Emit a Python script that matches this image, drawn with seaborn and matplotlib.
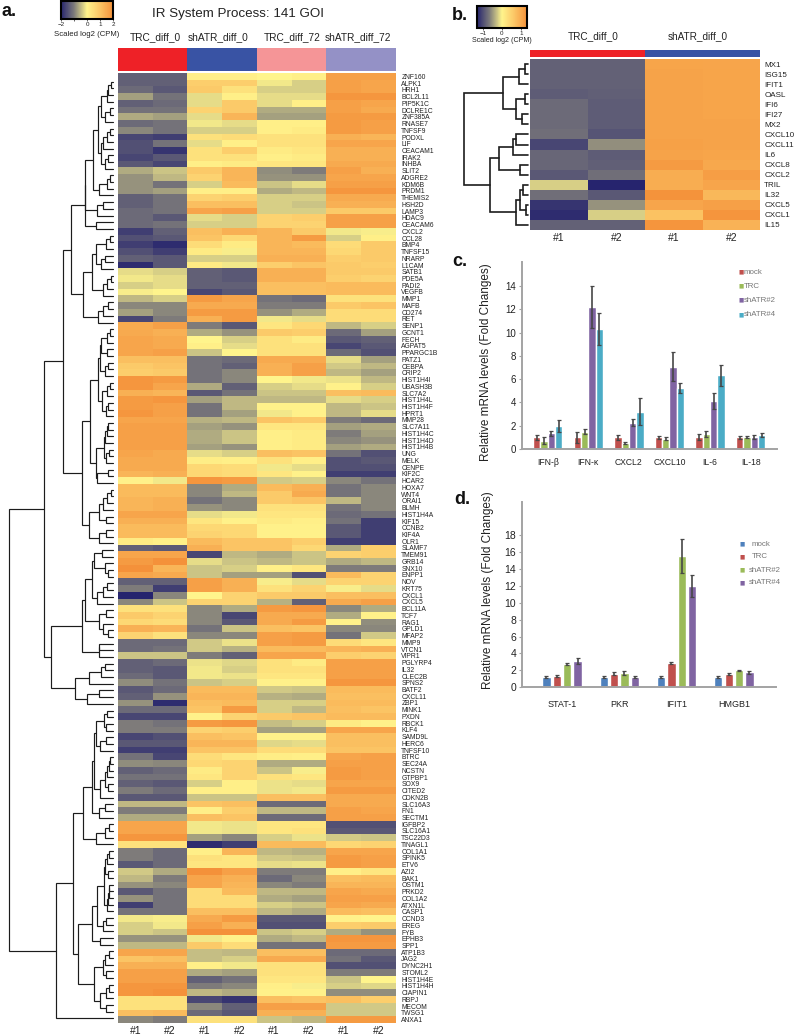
import numpy as np
import pandas as pd
import seaborn as sns
import matplotlib
matplotlib.use("Agg")
import matplotlib.pyplot as plt
from matplotlib.colors import LinearSegmentedColormap, ListedColormap, Normalize
from matplotlib.cm import ScalarMappable

sns.set_theme(style="white")
plt.rcParams['font.family'] = ['Liberation Sans', 'DejaVu Sans']

W, H = 794, 1035

a_genes = """ZNF160 ALPK1 HRH1 BCL2L11 PIP5K1C DCLRE1C ZNF385A RNASE7 TNFSF9 PODXL LIF CEACAM1 IRAK2 INHBA SLIT2 ADGRE2 KDM6B PRDM1 THEMIS2 HSH2D LAMP3 HDAC9 CEACAM6 CXCL2 CCL28 BMP4 TNFSF15 NRARP L1CAM SATB1 PDE5A PADI2 VEGFB MMP1 MAFB CD274 RET SENP1 GCNT1 FECH AGPAT5 PPARGC1B PATZ1 CEBPA CRIP2 HIST1H4I UBASH3B SLC7A2 HIST1H4L HIST1H4F HPRT1 MMP28 SLC7A11 HIST1H4C HIST1H4D HIST1H4B UNG MELK CENPE KIF2C HCAR2 HOXA7 WNT4 ORAI1 BLMH HIST1H4A KIF15 CCNB2 KIF4A OLR1 SLAMF7 TMEM91 GRB14 SNX10 ENPP1 NOV KRT75 CXCL1 CXCL5 BCL11A TCF7 RAG1 GPLD1 MFAP2 MMP9 VTCN1 VIPR1 PGLYRP4 IL32 CLEC2B SPNS2 BATF2 CXCL11 ZBP1 MINK1 PXDN RBCK1 KLF4 SAMD9L HERC6 TNFSF10 BTRC SEC24A NCSTN GTPBP1 SOX9 CITED2 CDKN2B SLC16A3 FN1 SECTM1 IGFBP2 SLC16A1 TSC22D3 TINAGL1 COL1A1 SPINK5 ETV6 AZI2 BAK1 OSTM1 PRKD2 COL1A2 ATXN1L CASP1 CCND3 EREG FYB EPHB3 SPP1 ATP1B3 JAG2 DYNC2H1 STOML2 HIST1H4E HIST1H4H CIAPIN1 RBPJ MECOM TWSG1 ANXA1""".split()

a_values = [
[-1.3,-1.3,0.1,0.1,0,0.1,1.7,1.7],[-1.3,-1.3,0.8,0.8,-0.1,-0.3,1.7,1.6],[-1.2,-1.4,0.9,0.4,-0.3,-0.3,1.7,1.6],
[-0.7,-1.1,-0.2,0.1,-0.2,-0.2,1.9,1.9],[-1.3,-1.2,-0.2,0.9,-0.2,0.1,1.7,1.6],[-1.1,-1.1,0.7,0.9,-0.6,-0.6,1.7,1.5],
[-0.6,-0.7,-0.2,1.3,-0.7,-0.7,1.8,1.8],[-1.2,-1.1,-0.1,-0.2,0.1,0.1,1.8,1.7],[-0.9,-1.1,-0.3,-0.3,0.1,0.2,1.8,1.7],
[-1.6,-1.7,0.4,0.5,0.4,0.4,1.4,1.3],[-1.5,-1.1,-0.2,0.1,0.4,0.4,1.6,1.6],[-1.5,-1.8,0.4,0.8,0.2,0.3,1.4,1.4],
[-1.6,-1.4,0.4,0.4,0.1,0.2,1.4,1.4],[-1.4,-1.6,0.1,0.2,0.3,0.3,1.5,1.5],[-0.6,-0.4,0.9,1.3,-0.85,-1.0,1.7,1.4],
[-0.8,-0.5,0.7,1.3,-0.8,-0.8,1.6,1.6],[-0.8,-1.1,-0.3,1.2,-0.4,-0.2,1.7,1.7],[-0.8,-0.7,0.1,0.1,-0.6,-0.5,1.9,1.9],
[-1.3,-1.1,0.7,0.8,-0.3,-0.3,1.5,1.5],[-1.3,-1.1,1.1,1.1,-0.3,-0.4,1.4,1.4],[-1.2,-1.1,1.6,1.7,-0.3,-0.3,0.9,0.9],
[-1.2,-1.4,-0.2,-0.3,0.7,0.8,1.7,1.7],[-1.2,-1.1,-0.3,-0.3,0.7,0.7,1.7,1.7],[-1.7,-1.3,1.1,1.4,1.3,0.9,-0.1,-0.05],
[-1.5,-1.4,1.0,0.6,1.3,1.8,-0.3,0.1],[-1.7,-1.9,0.5,0.2,1.3,1.2,0.5,0.9],[-1.5,-1.7,0.2,-0.05,1.3,1.3,0.6,0.9],
[-1.3,-1.4,-0.3,-0.3,1.4,1.4,0.8,0.9],[-1.9,-1.4,0.2,-0.1,0.8,1.0,0.9,0.8],[-0.2,-0.3,-1.3,-1.4,1.4,1.4,0.9,0.9],
[-0.1,-0.2,-1.3,-1.4,1.4,1.4,0.8,0.7],[-0.3,-0.2,-1.3,-1.3,1.1,1.1,1.2,1.2],[-0.05,0,-1.6,-1.4,1.1,1.1,1.2,1.2],
[-0.5,-0.3,1.8,1.6,-1.1,-1.2,0.4,0.4],[-0.9,-0.9,1.5,1.5,-1.0,-1.0,0.9,1.0],[-0.7,-0.9,1.8,1.8,-0.8,-0.6,0.5,0.5],
[-1.6,-1.0,1.4,1.8,-0.1,-0.2,0.5,0.5],[1.5,1.7,-1.0,-1.4,0.3,0.6,-0.5,-0.3],[1.5,1.4,-0.6,-0.8,0.9,0.8,-1.2,-0.7],
[1.6,1.5,0,-0.3,0.4,0.2,-1.4,-1.3],[1.6,1.5,0.1,-0.2,0.4,0.4,-1.6,-1.4],[1.6,1.7,-0.4,0,0.4,0.4,-1.2,-1.5],
[1.1,1.1,-1.1,-1.2,1.5,1.5,-0.2,-0.7],[0.9,1.0,-1.1,-1.3,1.4,1.7,-0.35,-0.5],[0.8,0.9,-1.1,-0.9,1.4,1.7,-0.5,-0.7],
[1.9,1.8,-1.1,-0.9,0,-0.1,-0.15,-0.5],[1.9,1.6,-0.6,-1.3,-0.3,-0.2,0.05,-0.3],[1.4,1.3,-1.4,-1.1,-0.4,-0.4,1.1,1.2],
[1.8,1.9,-0.7,-0.5,-0.5,-0.5,-0.2,-0.3],[1.8,1.7,-1.1,-0.5,0.05,0.05,-0.5,-0.4],[1.9,1.7,-1.1,-0.7,-0.1,0.05,-0.5,-0.2],
[1.6,1.6,-0.55,-0.5,1.0,0.9,-1.0,-1.2],[1.7,1.7,-0.7,-0.8,0.3,0.3,-0.7,-0.6],[1.7,1.7,-0.6,-0.4,0.1,0.2,-1.0,-0.7],
[1.7,1.7,-0.6,-0.4,0.1,0.2,-0.9,-0.8],[1.7,1.7,-0.7,-0.8,0.1,0.2,-0.7,-0.6],[1.6,1.5,-0.2,-0.3,1.1,1.0,-1.1,-1.5],
[1.5,1.5,0.15,0.1,0.4,0.1,-1.5,-1.4],[1.5,1.5,0.6,0.5,-0.1,-0.2,-1.5,-1.5],[1.3,1.4,0.6,0.5,0.3,0.05,-1.7,-1.7],
[0.05,-0.1,1.9,1.8,-0.35,-0.3,-0.9,-1.1],[1.2,1.2,-0.9,-0.6,1.2,1.4,-1.1,-0.9],[1.2,1.2,-0.9,-0.5,0.9,1.5,-1.1,-0.9],
[1.3,1.4,-1.1,-0.9,0.9,1.0,-0.5,-0.9],[1.3,1.4,-0.8,-0.9,0.4,0.4,-1.1,-0.9],[1.6,1.6,-0.2,-0.1,0.3,0.3,-1.2,-1.1],
[1.4,1.4,0.3,0.05,0.2,0.1,-1.1,-1.7],[1.2,1.2,0.6,0.6,0.05,0.05,-1.4,-1.7],[1.2,1.2,0.7,0.6,0.05,0.05,-1.4,-1.7],
[0.2,0.1,1.2,1.0,1.0,0.8,-1.7,-1.7],[-1.3,-1.4,1.4,1.0,1.0,0.6,-0.6,0.8],[1.6,1.6,-1.6,-0.5,-0.6,-0.4,0.7,0.8],
[1.8,2.0,-0.2,-0.4,-0.5,-0.4,-0.6,-0.5],[2.0,1.3,-0.4,-0.3,0.1,0.3,-1.0,-1.0],[1.6,1.5,-0.4,-0.7,-0.7,-1.5,1.2,0.7],
[-1.3,-1.3,1.7,1.4,-0.05,-0.2,0.7,0.7],[-1.0,-1.7,1.7,1.4,0.4,0.7,-0.05,-0.2],[-2,-0.9,0,0.7,0.9,0.9,1.1,1.1],
[-0.9,-0.4,0.7,0.7,-0.55,-1.3,1.5,1.7],[0.4,0.4,-0.9,-0.6,1.8,1.9,-0.9,-0.6],[0.9,0.7,-0.9,-1.6,1.5,1.5,-0.6,0.05],
[0.6,0.5,-0.9,-1.4,1.5,1.8,0.05,-0.85],[1.4,1.3,-1.1,-0.4,1.1,1.0,-0.9,-0.9],[0.7,0.4,-0.9,-0.9,1.7,1.8,-1.1,-0.35],
[-1.2,-1.2,-0.35,-0.15,1.7,1.8,0.5,0.3],[-1.2,-1.1,-0.35,-0.55,1.2,1.2,1.3,1.4],[-0.4,-0.4,-1.0,-1.3,1.6,1.6,0.8,0.7],
[-1.3,-1.2,-0.15,-0.25,0.4,0.2,1.7,1.7],[-1.3,-1.4,-0.1,-0.3,0.4,0.4,1.7,1.7],[-1.2,-1.4,-0.1,-0.15,0.3,0.3,1.7,1.7],
[-0.85,-1.1,-0.4,-0.3,0.05,0.05,1.9,1.9],[-1.4,-1.2,1.2,1.2,-0.35,-0.4,1.2,1.2],[-1.3,-0.8,1.3,1.3,-0.55,-0.6,1.1,1.1],
[-0.8,-1.9,1.1,1.2,-0.3,-0.3,1.2,1.2],[-1.2,-1.2,1.0,1.8,-0.3,-0.5,1.1,1.0],[-1.6,-1.6,0.05,0.7,0.9,1.0,1.2,1.2],
[-1.0,-1.1,1.8,1.9,-0.45,-0.3,0.2,0.05],[-1.0,-1.0,0.7,0.8,-0.7,-0.7,1.6,1.6],[-1.6,-1.5,1.1,1.0,0.05,0.05,1.1,1.1],
[-1.4,-1.4,1.3,1.3,-0.25,-0.2,1.1,1.1],[-1.7,-1.7,1.0,1.0,0.5,0.5,1.0,1.0],[-1.1,-1.6,0.5,0.3,0.15,0.1,1.6,1.7],
[-0.85,-0.9,0.6,0.7,-0.6,-0.6,1.7,1.7],[-1.3,-1.2,0.2,0.7,-0.4,-0.05,1.8,1.7],[-1.1,-1.1,0.3,0.7,0.4,0.3,1.8,1.7],
[-1.3,-1.4,-0.3,0.1,-0.15,-0.2,1.6,1.6],[-1.0,-1.2,0.1,0.1,-0.15,-0.1,1.8,1.8],[-1.4,-1.4,-0.4,-0.4,1.1,1.1,1.5,1.5],
[-0.5,-0.5,1.0,1.1,-1.2,-1.2,1.5,1.5],[-1.0,-1.0,0.1,0.8,-0.5,-0.5,1.7,1.6],[-0.6,-0.6,1.1,1.0,-1.2,-1.2,1.7,1.7],
[1.6,1.6,-0.1,-0.15,0.3,0.3,-1.5,-1.5],[1.6,1.6,-0.1,-0.15,0.3,0.4,-1.4,-1.4],[1.9,1.9,-0.7,-0.9,-0.3,-0.15,-0.35,-0.4],
[0.4,0.4,-1.9,-1.7,1.2,1.2,0.6,0.7],[-1.0,-1.2,0.1,1.3,-0.5,-0.55,1.6,1.6],[-1.0,-1.2,0.4,0.3,-0.35,-0.4,1.8,1.7],
[-1.4,-1.2,0.3,0.3,-0.2,-0.15,1.8,1.7],[-0.35,-0.6,2.0,1.7,-1.0,-1.0,0.1,0.3],[-0.5,-1.0,1.6,1.4,-1.2,-0.9,1.1,1.2],
[-0.8,-0.9,1.6,1.3,-0.9,-1.0,1.3,1.3],[-1.4,-1.1,0.5,1.2,-0.5,-0.5,1.6,1.5],[-0.8,-1.1,0.5,0.5,-0.6,-0.7,1.7,1.7],
[-1.7,-1.1,0.5,0.5,-0.3,-0.4,1.6,1.5],[-1.1,-1.1,1.1,1.1,-0.5,-0.6,1.2,1.1],[-0.1,-0.05,1.5,1.8,-1.4,-1.4,0.05,0.0],
[-0.3,-0.1,1.7,1.4,-1.5,-1.5,0.8,0.9],[-0.3,-0.4,2.0,2.0,-0.4,-0.3,-0.6,-0.8],[-0.8,-0.8,-0.1,0.05,-0.6,-0.5,1.9,1.9],
[-0.5,-0.5,0.9,0.5,-1.1,-1.1,1.8,1.8],[1.6,1.6,-0.45,-0.5,1.1,1.1,-1.2,-1.2],[1.0,1.1,-0.45,-0.3,1.5,1.5,-1.1,-1.4],
[1.4,1.4,0.1,-0.1,0.4,0.4,-1.5,-1.5],[1.7,1.7,-0.6,-0.7,0.4,0.4,-1.0,-1.0],[1.7,1.7,-1.3,-1.1,0.3,0.3,-0.4,0],
[1.9,1.9,-1.0,-0.9,0.1,-0.05,-0.3,-0.25],[1.9,2.0,-0.5,-0.6,0.05,0.05,-0.85,-0.85],[0.4,0.4,-1.6,-1.8,1.1,1.0,1.1,0.8],
[0.4,0.4,-0.9,-1.3,1.7,1.7,-0.35,-0.35],[1.1,1.2,-1.2,-1.4,1.4,1.4,-0.35,-0.35],[-0.9,-1.0,0.4,0.4,-0.4,-0.5,1.8,1.8],
]

# merge heights of the row dendrogram: (height, upper, lower); 0 marks the next leaf
a_tree_upper = (49.7,
    (42, (28.3, (28, (20, (14.5, (12, (6, (5, (2, 0, 0), 0), 0), (8, (3, 0, 0), 0)),
                           (12, (10, (6, (3, 0, 0), 0), 0), (8, (5, 0, 0), 0))),
                      (14, (6, (3, 0, 0), 0), 0)),
                 (15.5, (10.3, 0, 0), 0)),
               (16.7, 0, 0)),
         (29.7, (20.7, (17.3, (6.5, (2.7, 0, 0), 0), (12, (8, 0, 0), 0)),
                       (10.3, (6, (2, 0, 0), 0), 0)),
                (15.3, (9.7, (4.7, 0, 0), 0), 0))),
    (31, (23, (15.3, (13, (12, (6, (2.7, 0, 0), 0), (6.3, 0, 0)), (8, (4.7, 0, 0), 0)),
                     (10.7, (5.7, (3, 0, 0), 0), (7.3, (4.7, 0, 0), 0))),
              (17.3, (9, (8, (6.3, (4.7, 0, 0), 0), 0), (7, (3.7, 0, 0), 0)),
                     (15.7, (5.3, 0, 0), 0))),
         (24, (14, (10.3, (5.7, (2, 0, 0), 0), 0), (7, 0, 0)), (14, (7, 0, 0), 0))))
a_tree_middle = (62.3,
    (30.7, (28.3, (21.3, (18.7, (11, 0, 0), (8, 0, (5, 0, 0))), (16.3, (10.3, (6.3, 0, 0), 0), 0)),
                  (14, (7, 0, 0), (9.7, 0, (5, 0, 0)))),
           (14.3, (13.7, 0, 0), 0)),
    (38, (23.7, (12, (8, 0, 0), 0), 0), (25.7, (13.7, 0, 0), 0)))
a_tree_lower = (57.3,
    (40, (29.7, (21.3, (19, (17.3, (9, (5.7, 0, 0), (7.3, 0, 0)), (13, (7, 0, 0), 0)),
                           (13, (8, (5.7, (4.3, (3, 0, 0), 0), 0), (4.7, 0, 0)), 0)),
                       (14.3, (8, 0, 0), 0)),
                (17, (8, (3.7, 0, 0), 0), 0)),
         (34.7, (21.3, (16.3, (9, (8, (5.7, (3.7, 0, 0), 0), (4.7, 0, 0)),
                                  (5.7, (5, (4.3, (3.7, 0, 0), 0), 0), 0)),
                              (10.3, (7, 0, 0), 0)),
                       (13, 0, 0)),
                (18.7, (10.3, (8, (3.7, 0, 0), 0), (7, 0, 0)),
                       (13, (7, (3.7, 0, 0), 0), (7.3, 0, 0))))),
    0)
a_tree = (104, (68.7, a_tree_upper, a_tree_middle), a_tree_lower)

b_genes = ["MX1","ISG15","IFIT1","OASL","IFI6","IFI27","MX2","CXCL10","CXCL11","IL6","CXCL8","CXCL2","TRIL","IL32","CXCL5","CXCL1","IL15"]
b_values = [
[-.86,-.86,1.08,1.06],[-.86,-.86,1.1,1.08],[-.86,-.86,1.1,1.08],[-.9,-.88,1.1,1.08],[-.8,-.9,1.1,1.08],[-.8,-.9,1.1,1.08],
[-.8,-.9,1.1,1.1],[-.76,-.96,1.1,1.1],[-1.06,-.56,1.12,1.1],[-.83,-.9,1.1,1.08],[-.83,-.88,1.2,1.03],[-.93,-.76,.97,1.16],
[-.2,-1.33,.97,1.06],[-.76,-.93,1.3,.83],[-1.2,-.53,1.06,1.13],[-1.26,-.2,.7,1.27],[-.86,-.86,1.27,.9],
]
b_tree = (64.3,
    (25, (9.3, (3.3, 0, 0), 0), (12.3, (3.3, 0, 0), (6, 0, 0))),
    (37.7, (29.3, (15, (12.3, 0, 0), 0), (8.3, 0, 0)),
           (11.7, (8.3, (5, 0, 0), (1.7, 0, 0)), 0)))

group_a = ["TRC_diff_0", "shATR_diff_0", "TRC_diff_72", "shATR_diff_72"]
group_colors = ["#ee2127", "#3953a4", "#f59597", "#9491c6"]
rep_labels = ["#1", "#2"]

c_genes = ["IFN-β", "IFN-κ", "CXCL2", "CXCL10", "IL-6", "IL-18"]
c_series = ["mock", "TRC", "shATR#2", "shATR#4"]
c_mean = [[1, 1, 1, 1, 1, 1],
          [0.7, 1.5, 0.5, 0.9, 1.3, 1.05],
          [1.35, 12.2, 2.25, 7.05, 4.15, 1.05],
          [1.95, 10.3, 3.2, 5.25, 6.35, 1.2]]
c_err = [[.2, .5, .2, .15, .25, .15],
         [.3, .25, .08, .15, .25, .08],
         [.2, 1.8, .3, 1.25, .7, .15],
         [.5, 1.35, 1.15, .4, .9, .15]]
c_colors = ["#c0504d", "#9bbb59", "#8064a2", "#4bacc6"]

d_genes = ["STAT-1", "PKR", "IFIT1", "HMGB1"]
d_series = ["mock", "TRC", "shATR#2", "shATR#4"]
d_mean = [[1.2, 1.2, 1.2, 1.2],
          [1.35, 1.6, 2.85, 1.55],
          [2.75, 1.65, 15.5, 2.0],
          [3.1, 1.25, 12, 1.75]]
d_err = [[.1, .1, .15, .1],
         [.1, .2, .15, .1],
         [.15, .25, 2, .1],
         [.35, .1, 1.3, .15]]
d_colors = ["#4f81bd", "#c0504d", "#9bbb59", "#8064a2"]

cmap = LinearSegmentedColormap.from_list("gb", [(0, "#26246e"), (0.25, "#7d7b7a"), (0.5, "#fff48c"),
                                                (0.75, "#fbc565"), (1, "#f4913a")])

fig = plt.figure(figsize=(W / 100, H / 100), dpi=100)


def ax_px(x0, y0, x1, y1):
    return fig.add_axes([x0 / W, 1 - y1 / H, (x1 - x0) / W, (y1 - y0) / H])


def txt(x, y, s, **kw):
    kw.setdefault("ha", "center")
    kw.setdefault("va", "center")
    kw.setdefault("color", "#222222")
    fig.text(x / W, 1 - y / H, s, **kw)


def draw_tree(ax, node, counter, lw):
    if node == 0:
        counter[0] += 1
        return 0.0, float(counter[0] - 1)
    h, up, low = node
    h1, y1 = draw_tree(ax, up, counter, lw)
    h2, y2 = draw_tree(ax, low, counter, lw)
    ax.plot([h1, h, h, h2], [y1, y1, y2, y2], color="#1c1c1c", lw=lw, solid_joinstyle="miter", clip_on=False)
    return h, (y1 + y2) / 2


def heat(rect, values, genes, fs, lims, ypad):
    ax = ax_px(*rect)
    sns.heatmap(pd.DataFrame(values, index=genes), cmap=cmap, vmin=lims[0], vmax=lims[1], cbar=False,
                ax=ax, xticklabels=rep_labels * (len(values[0]) // 2), yticklabels=genes)
    ax.yaxis.tick_right()
    ax.tick_params(axis="y", length=0, pad=ypad, labelsize=fs, labelrotation=0, colors="#222222")
    ax.tick_params(axis="x", length=0, pad=2, labelsize=7.5, labelrotation=0, colors="#222222")
    ax.set_xlabel("")
    ax.set_ylabel("")
    return ax


def annot(rect, n):
    ax = ax_px(*rect)
    sns.heatmap([list(range(n))], cmap=ListedColormap(group_colors[:n]), cbar=False, ax=ax,
                xticklabels=False, yticklabels=False)
    return ax


def cbar(rect, lim, ticks, labels):
    cax = ax_px(*rect)
    cb = fig.colorbar(ScalarMappable(Normalize(*lim), cmap), cax=cax, orientation="horizontal")
    cb.outline.set_linewidth(1.5)
    cb.outline.set_edgecolor("black")
    cb.set_ticks(ticks)
    cb.set_ticklabels(labels)
    cax.tick_params(length=1.5, width=0.5, pad=1, labelsize=4.5, colors="#222222", bottom=True)


# ---- panel a
heat((118, 73, 395.7, 1023), a_values, a_genes, 4.9, (-2, 2), 4)
annot((118, 47.7, 395.7, 70.7), 4)
dax = ax_px(0, 81.7, 113, 81.7 + 6.69 * 140)
draw_tree(dax, a_tree, [0], 0.85)
dax.set_xlim(113, 0)
dax.set_ylim(140, 0)
dax.axis("off")
cbar((61, 1, 113, 19), (-2, 2), [-2, -1, 0, 1, 2], ["−2", "", "0", "1", "2"])
txt(86.7, 35, "Scaled log2 (CPM)", fontsize=5.6)
txt(238, 14, "IR System Process: 141 GOI", fontsize=9.6)
for x, s in zip([155, 218, 291.7, 358], group_a):
    txt(x, 37.5, s, fontsize=7.3)
txt(2, 11, "a.", fontsize=13, fontweight="bold", ha="left", color="#111111")

# ---- panel b
heat((530.3, 59, 760, 230), b_values, b_genes, 5.8, (-1.33, 1.33), 3)
annot((530.3, 49.7, 760, 57), 2)
dax = ax_px(440, 64, 528, 225)
draw_tree(dax, b_tree, [0], 1.2)
dax.set_xlim(88, 0)
dax.set_ylim(16, 0)
dax.axis("off")
cbar((477, 6, 527, 28), (-1.33, 1.33), [-1, 0, 1], ["−1", "0", "1"])
txt(502, 40.5, "Scaled log2 (CPM)", fontsize=5.1)
for x, s in zip([593, 698], group_a):
    txt(x, 35.7, s, fontsize=7.2)
txt(452, 15, "b.", fontsize=13, fontweight="bold", ha="left", color="#111111")


# ---- bars
def bars(rect, genes, series, mean, err, colors, gap, width, xlim, ylim, yticks, xfs, xpad, yfs):
    ax = ax_px(*rect)
    df = pd.DataFrame({"gene": genes * len(series),
                       "series": [s for s in series for _ in genes],
                       "val": np.ravel(mean)})
    sns.barplot(data=df, x="gene", y="val", hue="series", palette=colors, width=width, gap=gap,
                ax=ax, legend=False, errorbar=None, saturation=1)
    for cont, es in zip(ax.containers, err):
        for bar, e in zip(cont, es):
            ax.errorbar(bar.get_x() + bar.get_width() / 2, bar.get_height(), yerr=e, color="#474747",
                        elinewidth=1.2, capsize=1.5, capthick=0.9)
    ax.set_xlim(*xlim)
    ax.set_ylim(*ylim)
    ax.set_yticks(yticks)
    ax.patch.set_alpha(0)
    ax.set_xlabel("")
    ax.set_ylabel("")
    sns.despine(ax=ax)
    for s in ("left", "bottom"):
        ax.spines[s].set_color("#a3a3a3")
        ax.spines[s].set_linewidth(1.4)
    ax.tick_params(axis="y", left=True, length=2.5, width=0.8, color="#a3a3a3", labelsize=yfs, pad=2, labelcolor="#222222")
    ax.tick_params(axis="x", bottom=False, labelsize=xfs, pad=xpad, labelcolor="#222222")
    return ax


bars((522, 262, 777, 449), c_genes, c_series, c_mean, c_err, c_colors, 0, 0.72,
     (-0.633, 5.648), (0, 187 / 11.64), list(range(0, 15, 2)), 6.2, 0.5, 7)
txt(485.7, 362.5, "Relative mRNA levels (Fold Changes)", fontsize=8.5, rotation=90)
txt(452, 262, "c.", fontsize=13, fontweight="bold", ha="left", color="#111111")
for y, s, col in zip([272, 286, 300, 314.7], c_series, c_colors):
    txt(741, y, "■", fontsize=4, color=col, family=["DejaVu Sans"])
    txt(744, y, s, fontsize=5.7, ha="left", color="#777777")

bars((522.3, 501.7, 776, 687.3), d_genes, d_series, d_mean, d_err, d_colors, 0.2, 0.726,
     (-0.693, 3.735), (0, 185.6 / 8.46), list(range(0, 19, 2)), 6.5, 3, 7.5)
txt(487.7, 590, "Relative mRNA levels (Fold Changes)", fontsize=8.5, rotation=90)
txt(454, 500, "d.", fontsize=13, fontweight="bold", ha="left", color="#111111")
for y, s, col, tx in zip([544, 557, 570, 583], d_series, d_colors, [751.7, 751.7, 748.7, 748.7]):
    txt(742, y, "■", fontsize=4, color=col, family=["DejaVu Sans"])
    txt(tx, y, s, fontsize=5.7, ha="left", color="#777777")

fig.savefig("out.png", dpi=100)
